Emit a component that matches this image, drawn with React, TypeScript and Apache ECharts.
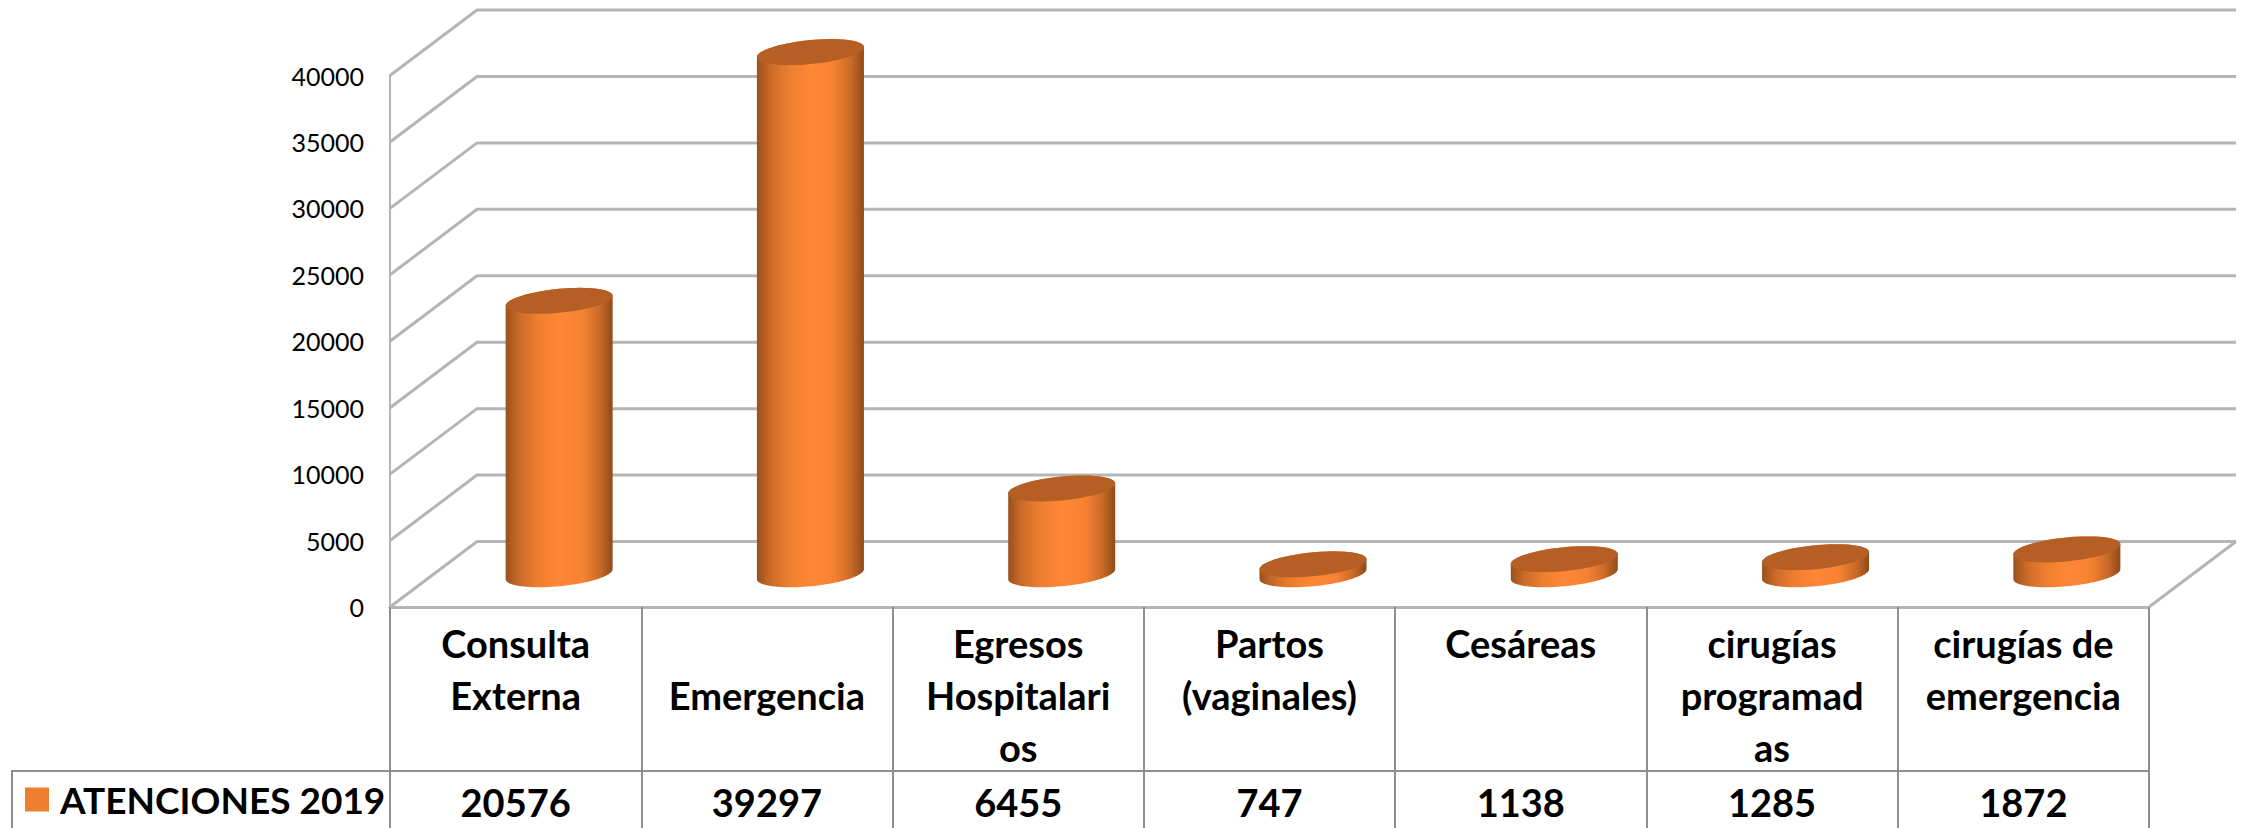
import React, { useEffect, useRef } from "react";
import * as echarts from "echarts";

const categories = ["Consulta Externa", "Emergencia", "Egresos Hospitalarios", "Partos (vaginales)", "Cesáreas", "cirugías programadas", "cirugías de emergencia"];
const categoryLabels = ["Consulta\nExterna", "\nEmergencia", "Egresos\nHospitalari\nos", "Partos\n(vaginales)", "Cesáreas", "cirugías\nprogramad\nas", "cirugías de\nemergencia"];
const seriesName = "ATENCIONES 2019";
const values = [20576, 39297, 6455, 747, 1138, 1285, 1872];
const yTicks = [0, 5000, 10000, 15000, 20000, 25000, 30000, 35000, 40000];

const DX = 87;
const DY = 65.5;
const GRID = "#b5b5b5";
const TABLE = "#8e8e8e";
const FONT = "Lato";
const WEIGHT = "bold";
const SIZE = 38;

function ellipse(cx: number, cy: number, a: number, b: number, s: number, from: number, to: number) {
  const pts: number[][] = [];
  const n = 48;
  for (let i = 0; i <= n; i++) {
    const t = from + ((to - from) * i) / n;
    pts.push([cx + a * Math.cos(t), cy + b * Math.sin(t) - s * Math.cos(t)]);
  }
  return pts;
}

export default function App() {
  const ref = useRef<HTMLDivElement>(null);
  useEffect(() => {
    const chart = echarts.init(ref.current!, null, { renderer: "svg" });
    chart.setOption({
      animation: false,
      backgroundColor: "#fff",
      grid: { left: 390, right: 98, top: 75.5, height: 531.5 },
      legend: {
        left: 25,
        top: 781,
        padding: 0,
        itemWidth: 24,
        itemHeight: 24,
        data: [{ name: seriesName, icon: "rect", itemStyle: { color: "#EE7F31" } }],
        textStyle: { fontFamily: FONT, fontWeight: WEIGHT, fontSize: 37, color: "#000", padding: [0, 0, 0, 6] },
      },
      xAxis: [
        {
          type: "category",
          data: categories,
          position: "bottom",
          axisLine: { show: true, lineStyle: { color: GRID, width: 3 } },
          axisTick: { show: true, length: 222, lineStyle: { color: TABLE, width: 2 } },
          axisLabel: {
            interval: 0,
            margin: 10,
            fontFamily: FONT,
            fontWeight: WEIGHT,
            fontSize: SIZE,
            lineHeight: 52,
            color: "#000",
            hideOverlap: false,
            formatter: (_: string, i: number) => categoryLabels[i],
          },
        },
        {
          type: "category",
          data: values.map(String),
          position: "bottom",
          offset: 164,
          axisLine: { show: true, lineStyle: { color: TABLE, width: 2 } },
          axisTick: { show: false },
          axisLabel: { interval: 0, margin: 12, fontFamily: FONT, fontWeight: WEIGHT, fontSize: SIZE, color: "#000" },
        },
      ],
      yAxis: {
        type: "value",
        min: 0,
        max: 40000,
        interval: 5000,
        axisLine: { show: true, lineStyle: { color: GRID, width: 2 } },
        axisTick: { show: false },
        splitLine: { show: false },
        axisLabel: { margin: 26, fontFamily: FONT, fontSize: 25, color: "#000", formatter: (v: number) => String(v) },
      },
      graphic: [
        {
          type: "polyline",
          shape: { points: [[12, 828], [12, 771], [390, 771]] },
          style: { stroke: TABLE, lineWidth: 2, fill: "none" },
        },
      ],
      series: [
        {
          type: "custom",
          name: "walls",
          silent: true,
          z: 1,
          data: yTicks.map((v) => [0, v]),
          encode: { x: 0, y: 1 },
          clip: false,
          renderItem: (params: any, api: any) => {
            const g = params.coordSys;
            const y = api.coord([0, api.value(1)])[1];
            const children: any[] = [
              {
                type: "polyline",
                shape: { points: [[g.x, y], [g.x + DX, y - DY], [g.x + g.width + DX, y - DY]] },
                style: { stroke: GRID, lineWidth: 3, fill: "none" },
              },
            ];
            if (api.value(1) === 0) {
              children.push({
                type: "line",
                shape: { x1: g.x + g.width, y1: y, x2: g.x + g.width + DX, y2: y - DY },
                style: { stroke: GRID, lineWidth: 3 },
              });
            }
            return { type: "group", children };
          },
        },
        {
          type: "custom",
          name: seriesName,
          z: 3,
          itemStyle: { color: "#EE7F31" },
          data: values.map((v, i) => [i, v]),
          encode: { x: 0, y: 1 },
          clip: false,
          renderItem: (params: any, api: any) => {
            const i = api.value(0);
            const [cx0, yTop0] = api.coord([i, api.value(1)]);
            const [, yBase0] = api.coord([i, 0]);
            const cx = cx0 + 43.5;
            const yTop = yTop0 - DY / 2;
            const yBase = yBase0 - DY / 2;
            const a = 53.5;
            const b = 12;
            const s = 5;
            const body = [
              ...ellipse(cx, yTop, a, b, s, Math.PI, 2 * Math.PI),
              ...ellipse(cx, yBase, a, b, s, 0, Math.PI),
            ];
            const top = ellipse(cx, yTop, a, b, s, 0, 2 * Math.PI);
            return {
              type: "group",
              children: [
                {
                  type: "polygon",
                  shape: { points: body },
                  style: {
                    fill: new echarts.graphic.LinearGradient(0, 0, 1, 0, [
                      { offset: 0, color: "#99501C" },
                      { offset: 0.12, color: "#C96A28" },
                      { offset: 0.3, color: "#EE7E30" },
                      { offset: 0.5, color: "#FF8735" },
                      { offset: 0.72, color: "#F58232" },
                      { offset: 0.88, color: "#C96A28" },
                      { offset: 1, color: "#8F4A1A" },
                    ]),
                  },
                },
                { type: "polygon", shape: { points: top }, style: { fill: "#B65F24" } },
              ],
            };
          },
        },
      ],
    });
    return () => chart.dispose();
  }, []);
  return <div ref={ref} style={{ position: "absolute", left: 0, top: 0, width: 2247, height: 828 }} />;
}
